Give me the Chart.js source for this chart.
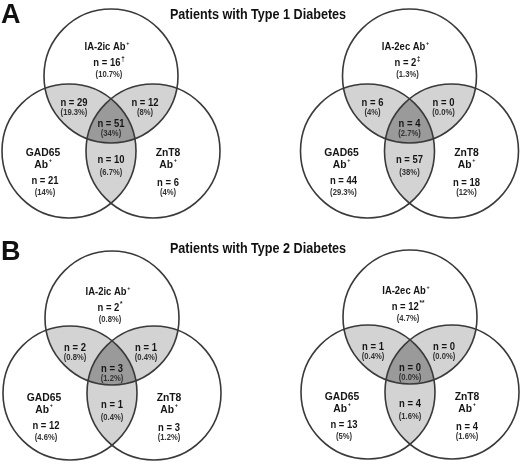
<!DOCTYPE html>
<html><head><meta charset="utf-8">
<script src="https://cdn.jsdelivr.net/npm/chart.js@4.4.1/dist/chart.umd.min.js"></script>
<style>html,body{margin:0;padding:0;background:#fff}#wrap{width:520px;height:464px;position:relative}</style>
</head><body><div id="wrap"><canvas id="c"></canvas></div>
<script>
// ---------- data ----------
const panelTitles = ['Patients with Type 1 Diabetes', 'Patients with Type 2 Diabetes'];
const panelLetters = ['A', 'B'];
const topSetLabels = ['IA-2ic Ab', 'IA-2ec Ab', 'IA-2ic Ab', 'IA-2ec Ab'];
const leftSetLabel = ['GAD65', 'Ab'];
const rightSetLabel = ['ZnT8', 'Ab'];
const positiveMark = '+';
const topFootnotes = ['\u2020', '\u2021', '*', '**'];
// region order: top only, GAD65 only, ZnT8 only, top&GAD65, top&ZnT8, GAD65&ZnT8, all three
const t1IcCounts = [16, 21, 6, 29, 12, 10, 51];
const t1IcPct = ['10.7%', '14%', '4%', '19.3%', '8%', '6.7%', '34%'];
const t1EcCounts = [2, 44, 18, 6, 0, 57, 4];
const t1EcPct = ['1.3%', '29.3%', '12%', '4%', '0.0%', '38%', '2.7%'];
const t2IcCounts = [2, 12, 3, 2, 1, 1, 3];
const t2IcPct = ['0.8%', '4.6%', '1.2%', '0.8%', '0.4%', '0.4%', '1.2%'];
const t2EcCounts = [12, 13, 4, 1, 0, 4, 0];
const t2EcPct = ['4.7%', '5%', '1.6%', '0.4%', '0.0%', '1.6%', '0.0%'];

// ---------- layout / style ----------
const VENN = [
  {cx: 111, cy: 76, ty: 0},
  {cx: 409.5, cy: 76, ty: 0},
  {cx: 112, cy: 318, ty: 3},
  {cx: 410, cy: 317, ty: 3}
];
const R = 67, DX = 42, DY = 75;
const REGION_POS = [[-2, -13], [-66, 105], [57, 107], [-37, 27], [34, 27], [0, 84], [0, 48]];
const PCT_GAP = [12, 12, 10, 10, 10, 13, 10];
const LIGHT = '#d3d3d3', DARK = '#9a9a9a', STROKE = '#3a3a3a';
const SQ = 0.9;
const FONT = '"Liberation Sans", Arial, Helvetica, sans-serif';

const vennData = [
  [t1IcCounts, t1IcPct], [t1EcCounts, t1EcPct], [t2IcCounts, t2IcPct], [t2EcCounts, t2EcPct]
];

const datasets = vennData.map(([counts, pcts], k) => ({
  label: 'venn' + k,
  data: counts.map((n, i) => ({
    x: VENN[k].cx + REGION_POS[i][0],
    y: VENN[k].cy + VENN[k].ty + REGION_POS[i][1],
    n: n, pct: pcts[i]
  })),
  pointRadius: 0, pointHoverRadius: 0, showLine: false
}));

function txt(ctx, x, y, main, sup, size, color, weight, supSize, supRise) {
  ctx.save();
  const mf = `${weight} ${size}px ${FONT}`;
  const sf = `bold ${supSize || size * 0.65}px ${FONT}`;
  ctx.font = mf;
  const w1 = ctx.measureText(main).width;
  let w2 = 0;
  if (sup) { ctx.font = sf; w2 = ctx.measureText(sup).width + 0.8; }
  const total = (w1 + w2) * SQ;
  ctx.translate(x - total / 2, y);
  ctx.scale(SQ, 1);
  ctx.fillStyle = color;
  ctx.textBaseline = 'middle';
  ctx.textAlign = 'left';
  ctx.font = mf;
  ctx.fillText(main, 0, 0);
  if (sup) { ctx.font = sf; ctx.fillText(sup, w1 + 0.8, -(supRise || size * 0.38)); }
  ctx.restore();
}

const vennPlugin = {
  id: 'venn',
  beforeDatasetsDraw(chart) {
    const {ctx, scales: {x, y}} = chart;
    const px = v => x.getPixelForValue(v), py = v => y.getPixelForValue(v);
    const rpx = Math.abs(px(R) - px(0));
    VENN.forEach(v => {
      const c = [[v.cx, v.cy], [v.cx - DX, v.cy + DY], [v.cx + DX, v.cy + DY]].map(([a, b]) => [px(a), py(b)]);
      const path = p => { ctx.beginPath(); ctx.arc(p[0], p[1], rpx, 0, Math.PI * 2); };
      [[0, 1], [0, 2], [1, 2]].forEach(([i, j]) => {
        ctx.save(); path(c[i]); ctx.clip(); path(c[j]); ctx.fillStyle = LIGHT; ctx.fill(); ctx.restore();
      });
      ctx.save(); path(c[0]); ctx.clip(); path(c[1]); ctx.clip(); path(c[2]); ctx.fillStyle = DARK; ctx.fill(); ctx.restore();
      ctx.save(); ctx.strokeStyle = STROKE; ctx.lineWidth = 1.6;
      c.forEach(p => { path(p); ctx.stroke(); });
      ctx.restore();
    });
  },
  afterDatasetsDraw(chart) {
    const {ctx, scales: {x, y}} = chart;
    const px = v => x.getPixelForValue(v), py = v => y.getPixelForValue(v);
    panelLetters.forEach((L, k) => {
      ctx.save();
      ctx.font = `bold 27px ${FONT}`;
      ctx.fillStyle = '#111';
      ctx.textBaseline = 'alphabetic';
      ctx.textAlign = 'left';
      ctx.fillText(L, px(1), py(k === 0 ? 23 : 260));
      ctx.restore();
      txt(ctx, px(258), py(k === 0 ? 15 : 249), panelTitles[k], null, 14, '#111', 'bold');
    });
    VENN.forEach((v, k) => {
      const ty = v.cy + v.ty;
      txt(ctx, px(v.cx - 4), py(ty - 29), topSetLabels[k], positiveMark, 10.5, '#151515', 'bold', 6, 4);
      txt(ctx, px(v.cx - 68), py(ty + 76.5), leftSetLabel[0], null, 11.5, '#151515', 'bold');
      txt(ctx, px(v.cx - 68), py(ty + 88.5), leftSetLabel[1], positiveMark, 11.5, '#151515', 'bold', 6, 4.5);
      txt(ctx, px(v.cx + 57), py(ty + 77), rightSetLabel[0], null, 11.5, '#151515', 'bold');
      txt(ctx, px(v.cx + 57), py(ty + 89), rightSetLabel[1], positiveMark, 11.5, '#151515', 'bold', 6, 4.5);
    });
    chart.data.datasets.forEach((ds, k) => {
      const meta = chart.getDatasetMeta(k);
      meta.data.forEach((el, i) => {
        const d = ds.data[i];
        const sup = i === 0 ? topFootnotes[k] : null;
        txt(ctx, el.x, el.y, 'n = ' + d.n, sup, 10.5, '#151515', 'bold', 7, 4);
        txt(ctx, el.x, el.y + PCT_GAP[i], '(' + d.pct + ')', null, 8.5, '#333', 'bold');
      });
    });
  }
};

new Chart(document.getElementById('c'), {
  type: 'scatter',
  data: {datasets},
  options: {
    responsive: true,
    maintainAspectRatio: false,
    animation: false,
    events: [],
    layout: {padding: 0},
    scales: {
      x: {type: 'linear', min: 0, max: 520, display: false},
      y: {type: 'linear', min: 0, max: 464, reverse: true, display: false}
    },
    plugins: {legend: {display: false}, tooltip: {enabled: false}, title: {display: false}}
  },
  plugins: [vennPlugin]
});
</script>
</body></html>
